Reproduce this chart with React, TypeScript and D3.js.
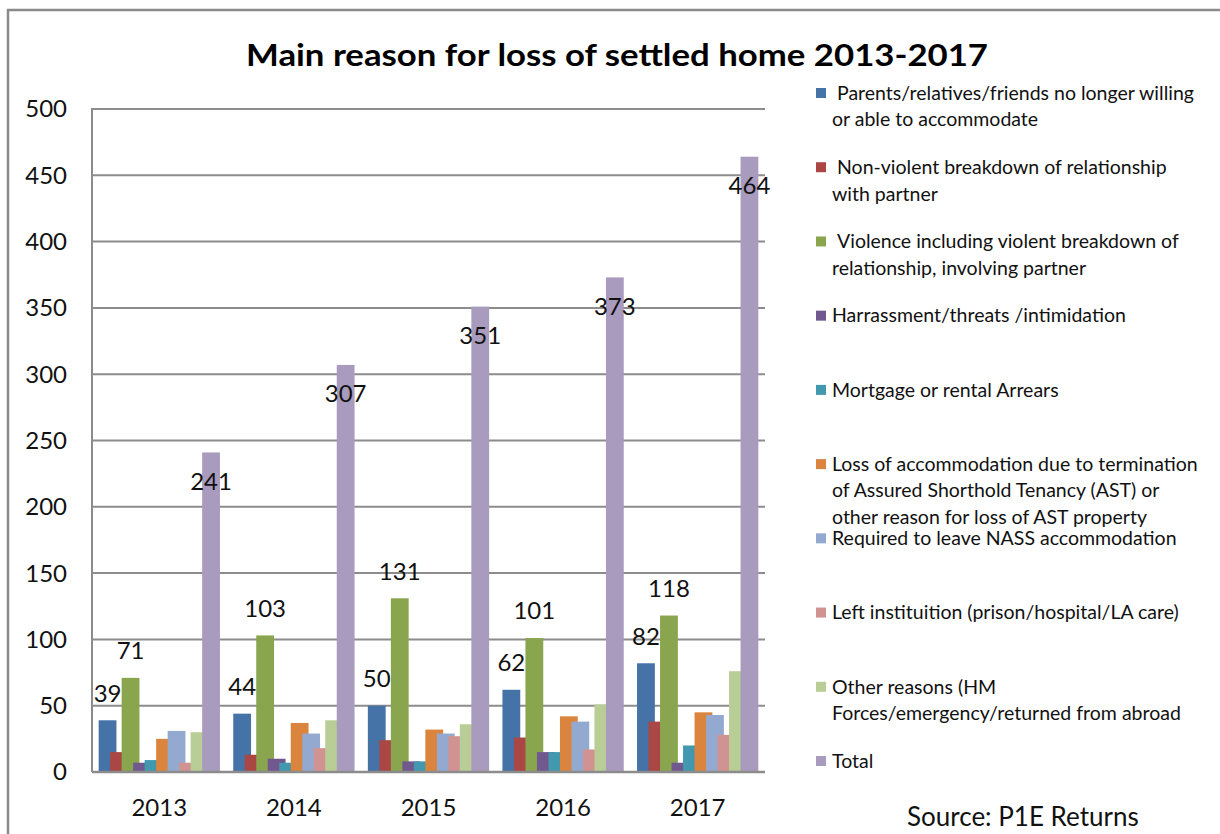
import React from "react";
import * as d3 from "d3";

const years = ["2013", "2014", "2015", "2016", "2017"];
const parents = [39, 44, 50, 62, 82];
const nonViolent = [15, 13, 24, 26, 38];
const violence = [71, 103, 131, 101, 118];
const harassment = [7, 10, 8, 15, 7];
const arrears = [9, 7, 8, 15, 20];
const astLoss = [25, 37, 32, 42, 45];
const nass = [31, 29, 29, 38, 43];
const institution = [7, 18, 27, 17, 28];
const otherReasons = [30, 39, 36, 51, 76];
const total = [241, 307, 351, 373, 464];
const yTicks = [0, 50, 100, 150, 200, 250, 300, 350, 400, 450, 500];

const legendLines = [
  [" Parents/relatives/friends no longer willing", "or able to accommodate"],
  [" Non-violent breakdown of relationship", "with partner"],
  [" Violence including violent breakdown of", "relationship, involving partner"],
  ["Harrassment/threats /intimidation"],
  ["Mortgage or rental Arrears"],
  ["Loss of accommodation due to termination", "of Assured Shorthold Tenancy (AST) or", "other reason for loss of AST property"],
  ["Required to leave NASS accommodation"],
  ["Left instituition (prison/hospital/LA care)"],
  ["Other reasons (HM", "Forces/emergency/returned from abroad"],
  ["Total"],
];

const colors = [
  "#4572A7", "#AA4643", "#89A54E", "#71588F", "#4198AF",
  "#DB843D", "#93A9CF", "#D19392", "#B9CD96", "#A99BBD",
];

const series = [parents, nonViolent, violence, harassment, arrears, astLoss, nass, institution, otherReasons, total];
const labelMode = ["above", null, "above", null, null, null, null, null, null, "inside"];

const FONT = "Lato, 'Open Sans', sans-serif";

export default function App() {
  const W = 1220, H = 834;
  const plotL = 92, plotR = 765, plotT = 109, plotB = 772;
  const y = d3.scaleLinear().domain([0, 500]).range([plotB, plotT]);
  const x = d3.scaleBand().domain(years).range([plotL, plotR]).padding(0);
  const barW = 17.8;
  const step = 11.5;
  const groupW = step * (series.length - 1) + barW;
  const off = d3.scaleLinear().domain([0, series.length - 1]).range([0, step * (series.length - 1)]);
  const groupStart = (yr: string) => (x(yr) as number) + (x.bandwidth() - groupW) / 2;

  const legendY = d3.scaleLinear().domain([0, legendLines.length - 1]).range([93, 761]);

  return (
    <svg width={W} height={H} style={{ position: "absolute", left: 0, top: 0, background: "#fff" }} fontFamily={FONT}>
      <rect x={0} y={0} width={W} height={H} fill="#fff" />
      <path d={`M8,${H} V10 H${W}`} fill="none" stroke="#8a8a8a" strokeWidth={2.5} />
      <text x={617} y={55} textAnchor="middle" dy="0.35em" fontSize={30} fontWeight="bold" fill="#000" textLength={742} lengthAdjust="spacingAndGlyphs">
        Main reason for loss of settled home 2013-2017
      </text>
      {yTicks.map((t) => (
        <g key={t}>
          {t > 0 && <line x1={plotL} x2={plotR} y1={y(t)} y2={y(t)} stroke="#8c8c8c" strokeWidth={2} />}
          <text x={67} y={y(t)} dy="0.35em" textAnchor="end" fontSize={24} fill="#111">{t}</text>
        </g>
      ))}
      {years.map((yr, gi) => (
        <g key={yr}>
          {series.map((s, si) => (
            <rect key={si} x={groupStart(yr) + off(si)} y={y(s[gi])} width={barW} height={plotB - y(s[gi])} fill={colors[si]} />
          ))}
        </g>
      ))}
      <line x1={plotL} x2={plotL} y1={plotT - 1} y2={plotB} stroke="#8c8c8c" strokeWidth={2} />
      <line x1={plotL} x2={plotR} y1={plotB} y2={plotB} stroke="#8c8c8c" strokeWidth={2.5} />
      {years.map((yr) => (
        <text key={yr} x={(x(yr) as number) + x.bandwidth() / 2} y={808} dy="0.35em" textAnchor="middle" fontSize={24} fill="#111">{yr}</text>
      ))}
      {years.map((yr, gi) => (
        <g key={"l" + yr}>
          {series.map((s, si) => {
            const mode = labelMode[si];
            if (!mode) return null;
            const cx = groupStart(yr) + off(si) + barW / 2;
            const cy = mode === "above" ? y(s[gi]) - 27 : y(s[gi]) + 29;
            return (
              <text key={si} x={cx} y={cy} dy="0.35em" textAnchor="middle" fontSize={24} fill="#111">{s[gi]}</text>
            );
          })}
        </g>
      ))}
      {legendLines.map((lines, i) => {
        const ly = legendY(i);
        return (
          <g key={i}>
            <rect x={816} y={ly - 5} width={10} height={10} fill={colors[i]} />
            {lines.map((ln, j) => (
              <text key={j} x={ln.startsWith(" ") ? 837 : 832} y={ly + j * 26.5} dy="0.35em" fontSize={19.5} fill="#111">{ln.trim()}</text>
            ))}
          </g>
        );
      })}
      <text x={907} y={817} dy="0.35em" fontSize={26} fill="#111">Source: P1E Returns</text>
    </svg>
  );
}
